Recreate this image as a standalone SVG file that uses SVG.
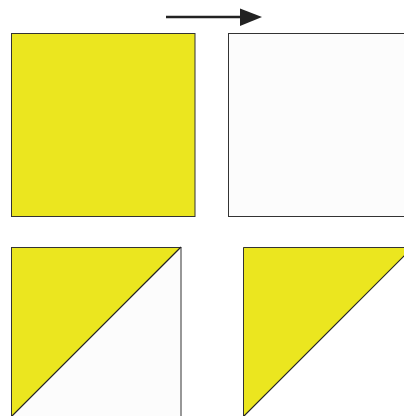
<svg xmlns="http://www.w3.org/2000/svg" width="404" height="416" viewBox="0 0 404 416">
<style>
.y{fill:#ebe61f}
.w{fill:#fcfcfc}
.o{fill:none;stroke:#333;stroke-width:1}
.d{stroke:#222;stroke-width:1.2}
</style>
<rect width="404" height="416" fill="#fff"/>
<g id="arrow">
<line x1="166" y1="17" x2="242" y2="17" stroke="#222" stroke-width="2.4"/>
<polygon points="240,8.5 262,17 240,26" fill="#222"/>
</g>
<g id="sq-yellow">
<rect class="y" x="11" y="33" width="184" height="183"/>
<rect class="o" x="11.5" y="33.5" width="183.5" height="183"/>
</g>
<g id="sq-white">
<rect class="w" x="228" y="33" width="190" height="183"/>
<rect class="o" x="228.5" y="33.5" width="190" height="183"/>
</g>
<g id="tri-left">
<rect class="w" x="11" y="247" width="170" height="180"/>
<polygon class="y" points="11,247 181,247 11,417"/>
<rect class="o" x="11.5" y="247.5" width="169.5" height="180"/>
<line class="d" x1="181" y1="247" x2="11" y2="417"/>
</g>
<g id="tri-right">
<polygon class="y" points="243,247 413,247 243,417"/>
<polyline class="o" points="243.5,430 243.5,247.5 420,247.5"/>
<line class="d" x1="413" y1="247" x2="243" y2="417"/>
</g>
</svg>
